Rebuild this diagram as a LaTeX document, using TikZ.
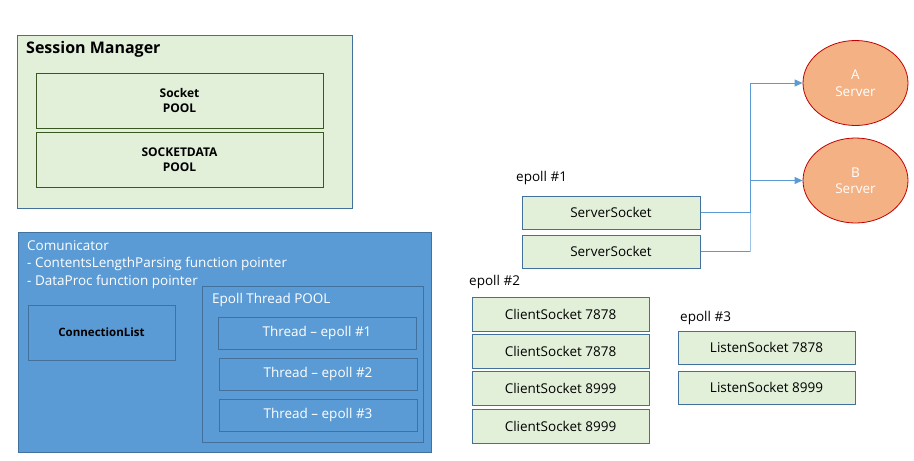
\documentclass[tikz,border=0pt]{standalone}
\usepackage{fontspec}
\setmainfont{Open Sans}
\usetikzlibrary{arrows.meta,shapes.geometric}
\definecolor{lgreen}{HTML}{E2EFD9}
\definecolor{bblue}{HTML}{41719C}
\definecolor{dgreen}{HTML}{385723}
\definecolor{mblue}{HTML}{5B9BD5}
\definecolor{lblue}{HTML}{9DC3E6}
\definecolor{orng}{HTML}{F4B183}
\definecolor{dred}{HTML}{C00000}
\tikzset{
  gbox/.style={draw=bblue, fill=lgreen, line width=1pt, inner sep=0pt, font=\fontsize{13.5}{15}\selectfont},
  poolbox/.style={draw=dgreen, line width=0.8pt, inner sep=0pt, align=center, font=\bfseries\fontsize{12}{15.5}\selectfont},
  bbox/.style={draw=bblue, fill=mblue, line width=1pt, inner sep=0pt, text=white, font=\fontsize{13.5}{15}\selectfont},
  lbl/.style={anchor=west, inner sep=0pt, font=\fontsize{13.5}{15}\selectfont},
  srv/.style={ellipse, draw=dred, fill=orng, line width=0.8pt, minimum width=105pt, minimum height=85pt, inner sep=0pt, align=center, text=white, font=\fontsize{13.5}{16.5}\selectfont},
  conn/.style={draw=mblue, line width=1pt},
}
\begin{document}
\begin{tikzpicture}[x=1pt,y=-1pt]
\useasboundingbox (0,0) rectangle (914,461);
% Session Manager
\node[draw=bblue, fill=lgreen, line width=1pt, minimum width=335pt, minimum height=173pt, inner sep=0pt] (sm) at (184.5,121.5) {};
\node[anchor=west, inner sep=0pt, font=\bfseries\fontsize{16}{18}\selectfont] (smt) at (26,49) {Session Manager};
\node[poolbox, minimum width=287pt, minimum height=55pt] (sp) at (179.5,100.5) {Socket\\POOL};
\node[poolbox, minimum width=287pt, minimum height=55pt] (sdp) at (179.5,159.5) {SOCKETDATA\\POOL};
% Comunicator
\node[draw=bblue, fill=mblue, line width=1pt, minimum width=413pt, minimum height=220pt, inner sep=0pt] (com) at (224.5,342) {};
\node[anchor=north west, inner sep=0pt, align=left, text=white, font=\fontsize{13.5}{17.5}\selectfont] (comt) at (27,240) {Comunicator\\- ContentsLengthParsing function pointer\\- DataProc function pointer};
\node[draw=bblue, line width=1pt, minimum width=147pt, minimum height=55pt, inner sep=0pt, font=\bfseries\fontsize{11.5}{14}\selectfont] (cl) at (101.5,332.5) {ConnectionList};
\node[draw=bblue, line width=1pt, minimum width=221pt, minimum height=156pt, inner sep=0pt] (etp) at (312.5,364) {};
\node[anchor=west, inner sep=0pt, text=white, font=\fontsize{13.5}{15}\selectfont] (etpt) at (212,300) {Epoll Thread POOL};
\node[bbox, minimum width=198pt, minimum height=32pt] (t1) at (317,333) {Thread -- epoll \#1};
\node[bbox, minimum width=198pt, minimum height=32pt] (t2) at (318,374) {Thread -- epoll \#2};
\node[bbox, minimum width=198pt, minimum height=32pt] (t3) at (318,415) {Thread -- epoll \#3};
% epoll #1
\node[lbl] (e1) at (516,178) {epoll \#1};
\node[gbox, minimum width=178pt, minimum height=33pt] (ss1) at (611,212.5) {ServerSocket};
\node[gbox, minimum width=178pt, minimum height=33pt] (ss2) at (611,251.5) {ServerSocket};
% epoll #2
\node[lbl] (e2) at (469,282) {epoll \#2};
\node[gbox, minimum width=177pt, minimum height=34pt] (c1) at (560.5,314) {ClientSocket 7878};
\node[gbox, minimum width=177pt, minimum height=34pt] (c2) at (560.5,351) {ClientSocket 7878};
\node[gbox, minimum width=177pt, minimum height=34pt] (c3) at (560.5,388) {ClientSocket 8999};
\node[gbox, minimum width=177pt, minimum height=34pt] (c4) at (560.5,426) {ClientSocket 8999};
% epoll #3
\node[lbl] (e3) at (680,318) {epoll \#3};
\node[gbox, minimum width=177pt, minimum height=33pt] (l1) at (766.5,347.5) {ListenSocket 7878};
\node[gbox, minimum width=177pt, minimum height=33pt] (l2) at (766.5,387.5) {ListenSocket 8999};
% servers
\node[srv] (A) at (855.5,83) {A\\Server};
\node[srv] (B) at (855.5,180.5) {B\\Server};
% connectors
\coordinate (j1) at (750.5,212.5);
\coordinate (j2) at (750.5,251.5);
\draw[conn] (ss1.east) -- (j1);
\draw[conn] (ss2.east) -- (j2);
\draw[draw=lblue, line width=1.2pt] (j2) -- (j1);
\draw[conn, -{Triangle[length=8pt,width=7pt]}] (j1) |- (A.west);
\draw[conn, -{Triangle[length=8pt,width=7pt]}] (j1) |- (B.west);
\end{tikzpicture}
\end{document}
